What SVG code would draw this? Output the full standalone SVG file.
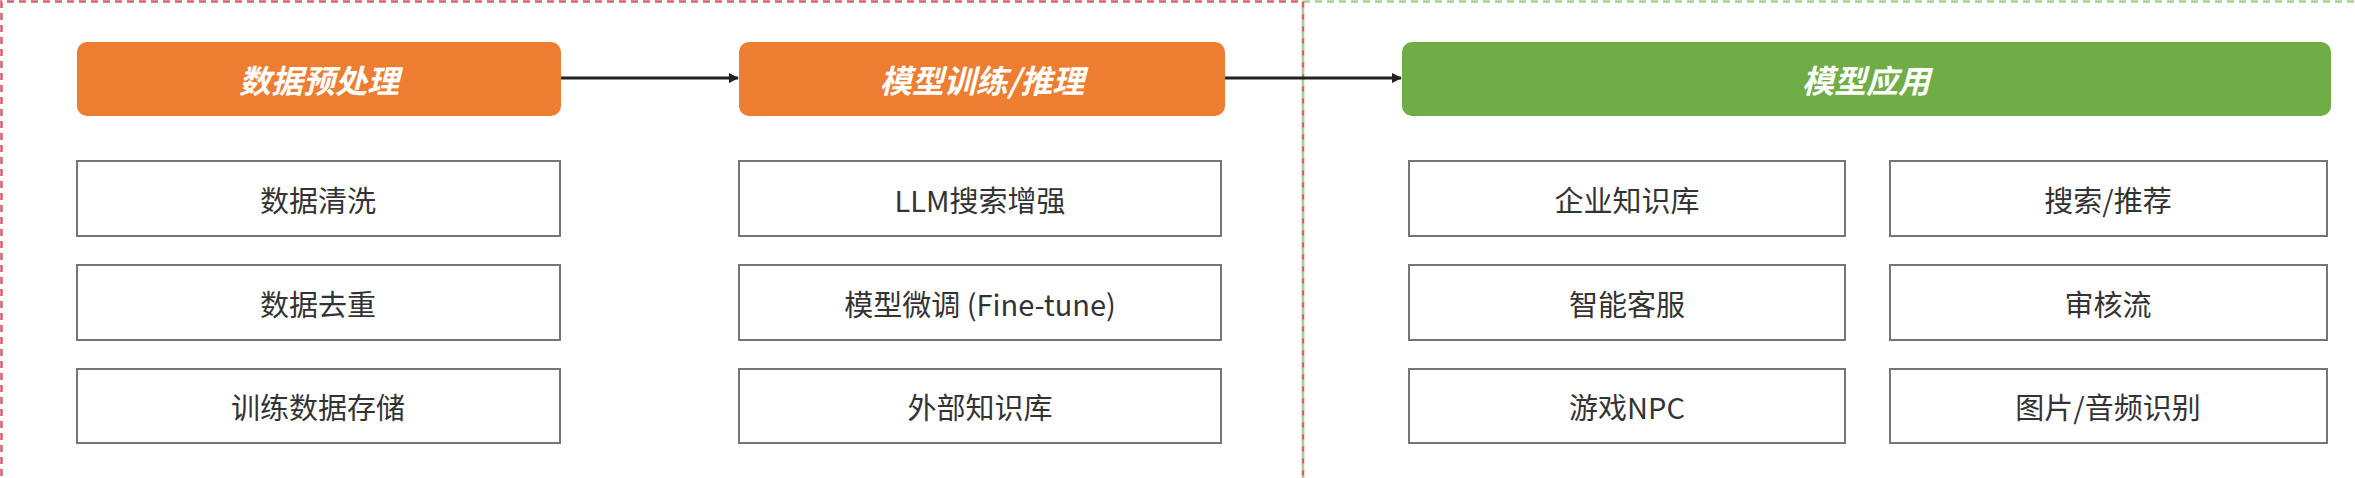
<svg xmlns="http://www.w3.org/2000/svg" width="2355" height="478" viewBox="0 0 2355 478">
  <defs>
    <marker id="arrow" markerWidth="10" markerHeight="10" refX="9" refY="5" orient="auto" markerUnits="userSpaceOnUse">
      <path d="M0,0 L10,5 L0,10 Z" fill="#222"/>
    </marker>
    <style>
      .hdr-o { fill: #ED7D31; }
      .hdr-g { fill: #70AD47; }
      .hdr-t { font-family: "Noto Sans CJK SC", "Noto Sans", sans-serif; font-size: 32px; font-weight: bold; font-style: italic; fill: #ffffff; text-anchor: middle; dominant-baseline: central; }
      .box { fill: #ffffff; stroke: #767676; stroke-width: 2; }
      .box-t { font-family: "Noto Sans CJK SC", "Noto Sans", sans-serif; font-size: 29px; fill: #333333; text-anchor: middle; dominant-baseline: central; }
      .conn { stroke: #222; stroke-width: 3; fill: none; }
      .red-dash { stroke: #D9606E; stroke-width: 2.5; stroke-dasharray: 7 5; fill: none; }
      .green-dash { stroke: #A9D18E; stroke-width: 2.5; stroke-dasharray: 7 5; fill: none; }
    </style>
  </defs>
  <rect width="2355" height="478" fill="#ffffff"/>

  <g id="frames">
    <path class="red-dash" d="M1.5,500 L1.5,1.5 L1303,1.5"/>
    <path class="green-dash" d="M1303,1.5 L2355,1.5"/>
    <path class="red-dash" d="M1303,1.5 L1303,478"/>
    <path class="green-dash" d="M1303,7.5 L1303,478"/>
  </g>

  <g id="connectors">
    <line class="conn" x1="561" y1="78" x2="738" y2="78" marker-end="url(#arrow)"/>
    <line class="conn" x1="1225" y1="78" x2="1401" y2="78" marker-end="url(#arrow)"/>
  </g>

  <g id="n-preprocess">
    <rect class="hdr-o" x="77" y="42" width="484" height="74" rx="10"/>
    <text class="hdr-t" x="319" y="79">数据预处理</text>
  </g>
  <g id="n-train">
    <rect class="hdr-o" x="739" y="42" width="486" height="74" rx="10"/>
    <text class="hdr-t" x="982" y="79">模型训练/推理</text>
  </g>
  <g id="n-app">
    <rect class="hdr-g" x="1402" y="42" width="929" height="74" rx="10"/>
    <text class="hdr-t" x="1866" y="79">模型应用</text>
  </g>

  <g id="n-clean">
    <rect class="box" x="77" y="161" width="483" height="75"/>
    <text class="box-t" x="318" y="199">数据清洗</text>
  </g>
  <g id="n-dedup">
    <rect class="box" x="77" y="265" width="483" height="75"/>
    <text class="box-t" x="318" y="303">数据去重</text>
  </g>
  <g id="n-store">
    <rect class="box" x="77" y="369" width="483" height="74"/>
    <text class="box-t" x="318" y="406">训练数据存储</text>
  </g>

  <g id="n-rag">
    <rect class="box" x="739" y="161" width="482" height="75"/>
    <text class="box-t" x="980" y="199">LLM搜索增强</text>
  </g>
  <g id="n-finetune">
    <rect class="box" x="739" y="265" width="482" height="75"/>
    <text class="box-t" x="980" y="303">模型微调 (Fine-tune)</text>
  </g>
  <g id="n-extkb">
    <rect class="box" x="739" y="369" width="482" height="74"/>
    <text class="box-t" x="980" y="406">外部知识库</text>
  </g>

  <g id="n-enterprise">
    <rect class="box" x="1409" y="161" width="436" height="75"/>
    <text class="box-t" x="1627" y="199">企业知识库</text>
  </g>
  <g id="n-service">
    <rect class="box" x="1409" y="265" width="436" height="75"/>
    <text class="box-t" x="1627" y="303">智能客服</text>
  </g>
  <g id="n-npc">
    <rect class="box" x="1409" y="369" width="436" height="74"/>
    <text class="box-t" x="1627" y="406">游戏NPC</text>
  </g>

  <g id="n-search">
    <rect class="box" x="1890" y="161" width="437" height="75"/>
    <text class="box-t" x="2108" y="199">搜索/推荐</text>
  </g>
  <g id="n-review">
    <rect class="box" x="1890" y="265" width="437" height="75"/>
    <text class="box-t" x="2108" y="303">审核流</text>
  </g>
  <g id="n-recog">
    <rect class="box" x="1890" y="369" width="437" height="74"/>
    <text class="box-t" x="2108" y="406">图片/音频识别</text>
  </g>
</svg>
